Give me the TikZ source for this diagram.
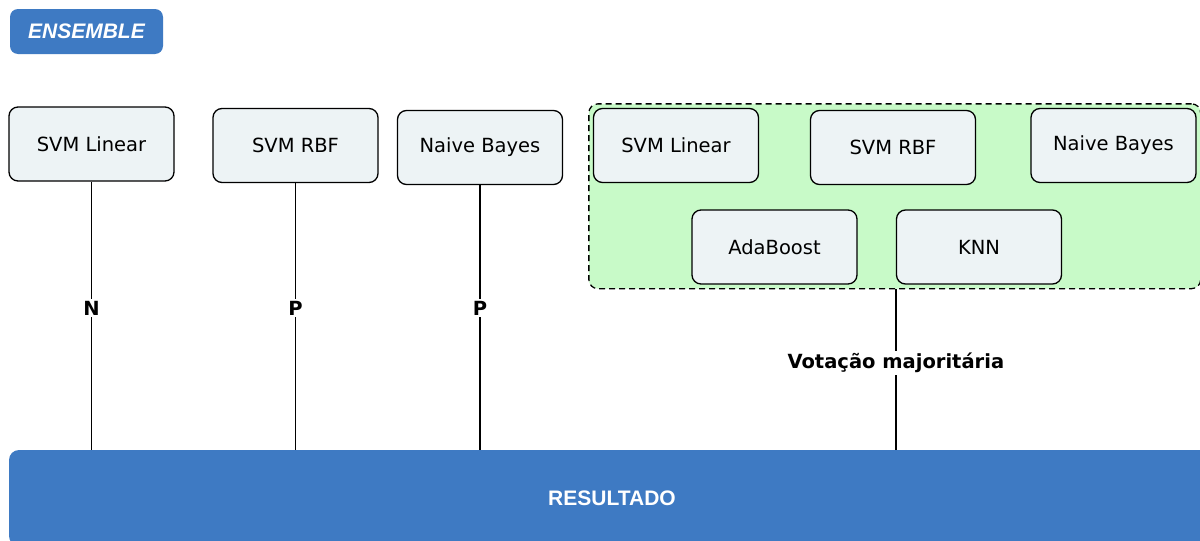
\documentclass[tikz,border=0pt]{standalone}
\usepackage{fontspec}
\setmainfont{DejaVu Sans}
\newfontfamily\arialfont{Liberation Sans}
\usetikzlibrary{positioning,fit,backgrounds}
\definecolor{barblue}{RGB}{62,122,195}
\definecolor{boxgray}{RGB}{237,243,245}
\definecolor{groupgreen}{RGB}{200,250,200}
\tikzset{model node/.style={rectangle, draw, line width=1.3pt, rounded corners=9pt, fill=boxgray,
    minimum width=165pt, minimum height=74pt, font=\fontsize{19.5}{23}\selectfont}}
\tikzset{title node/.style={rectangle, rounded corners=8pt, fill=barblue, text=white,
    font=\arialfont\fontsize{21}{24}\selectfont\bfseries\itshape}}
\tikzset{group node/.style={rectangle, draw, line width=1.3pt, dash pattern=on 6pt off 4pt,
    rounded corners=9pt, fill=groupgreen}}
\tikzset{regular edge/.style={draw=black, line width=1.3pt}}
\tikzset{vote label/.style={fill=white, inner sep=2pt, font=\fontsize{19.5}{23}\selectfont\bfseries}}

\begin{document}
\begin{tikzpicture}
  [x=1pt, y=-1pt]
  \useasboundingbox (0,0) rectangle (1200,541);
  \clip (0,0) rectangle (1200,541);

  \node [title node, minimum width=153pt, minimum height=45pt] (ensemble) at (86.5,31.5) {ENSEMBLE};

  % classificadores individuais
  \node [model node] (svmlin)  at ( 91.5,144)   {SVM Linear};
  \node [model node] (svmrbf)  at (295.5,145.5) {SVM RBF};
  \node [model node] (naive)   at (480,147.5)   {Naive Bayes};

  % comite com votacao
  \node [model node] (vsvmlin) at (676,145.5)   {SVM Linear};
  \node [model node] (vsvmrbf) at (893,147.5)   {SVM RBF};
  \node [model node] (vnaive)  at (1113.5,145.5) {Naive Bayes};
  \node [model node] (vada)    at (774.5,247)   {AdaBoost};
  \node [model node] (vknn)    at (979,247)     {KNN};
  \begin{scope}[on background layer]
    \node [group node, inner sep=4pt, fit=(vsvmlin) (vnaive) (vada) (vknn)] (comite) {};
  \end{scope}

  \node [rectangle, rounded corners=10pt, fill=barblue, text=white,
         minimum width=1206pt, minimum height=96pt,
         font=\arialfont\fontsize{21}{24}\selectfont\bfseries] (resultado) at (612,498) {RESULTADO};

  \draw [regular edge] (svmlin.south) -- (svmlin.south |- resultado.north)
    node [vote label, pos=0.472] {N};
  \draw [regular edge] (svmrbf.south) -- (svmrbf.south |- resultado.north)
    node [vote label, pos=0.468] {P};
  \draw [regular edge] (naive.south)  -- (naive.south |- resultado.north)
    node [vote label, pos=0.464] {P};
  \draw [regular edge] (comite.south -| vknn.west) -- (vknn.west |- resultado.north)
    node [vote label, pos=0.46] {Votação majoritária};
\end{tikzpicture}
\end{document}
